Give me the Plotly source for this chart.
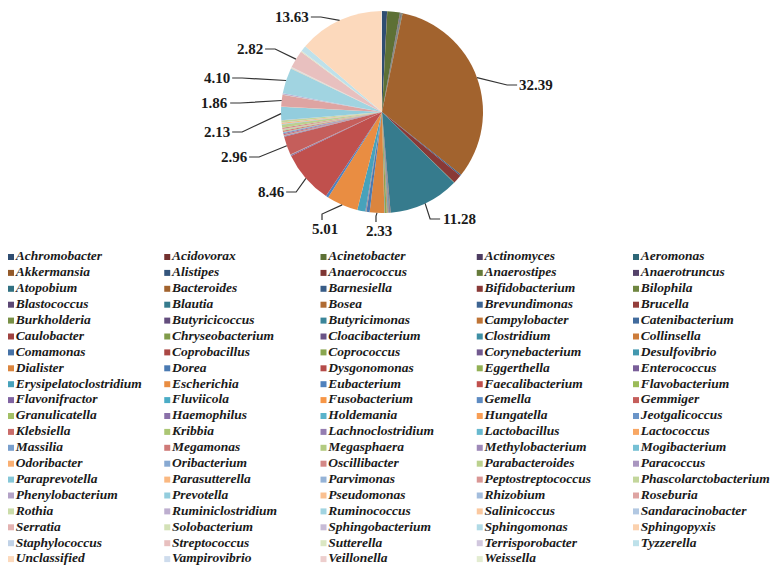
import math
import plotly.graph_objects as go

# genus relative abundance (%), in legend order
GENERA = [
    "Achromobacter", "Acidovorax", "Acinetobacter", "Actinomyces", "Aeromonas",
    "Akkermansia", "Alistipes", "Anaerococcus", "Anaerostipes", "Anaerotruncus",
    "Atopobium", "Bacteroides", "Barnesiella", "Bifidobacterium", "Bilophila",
    "Blastococcus", "Blautia", "Bosea", "Brevundimonas", "Brucella",
    "Burkholderia", "Butyricicoccus", "Butyricimonas", "Campylobacter", "Catenibacterium",
    "Caulobacter", "Chryseobacterium", "Cloacibacterium", "Clostridium", "Collinsella",
    "Comamonas", "Coprobacillus", "Coprococcus", "Corynebacterium", "Desulfovibrio",
    "Dialister", "Dorea", "Dysgonomonas", "Eggerthella", "Enterococcus",
    "Erysipelatoclostridium", "Escherichia", "Eubacterium", "Faecalibacterium", "Flavobacterium",
    "Flavonifractor", "Fluviicola", "Fusobacterium", "Gemella", "Gemmiger",
    "Granulicatella", "Haemophilus", "Holdemania", "Hungatella", "Jeotgalicoccus",
    "Klebsiella", "Kribbia", "Lachnoclostridium", "Lactobacillus", "Lactococcus",
    "Massilia", "Megamonas", "Megasphaera", "Methylobacterium", "Mogibacterium",
    "Odoribacter", "Oribacterium", "Oscillibacter", "Parabacteroides", "Paracoccus",
    "Paraprevotella", "Parasutterella", "Parvimonas", "Peptostreptococcus", "Phascolarctobacterium",
    "Phenylobacterium", "Prevotella", "Pseudomonas", "Rhizobium", "Roseburia",
    "Rothia", "Ruminiclostridium", "Ruminococcus", "Salinicoccus", "Sandaracinobacter",
    "Serratia", "Solobacterium", "Sphingobacterium", "Sphingomonas", "Sphingopyxis",
    "Staphylococcus", "Streptococcus", "Sutterella", "Terrisporobacter", "Tyzzerella",
    "Unclassified", "Vampirovibrio", "Veillonella", "Weissella",
]

ABUNDANCE = [
    0.80, 0.04, 2.00, 0.05, 0.03,
    0.08, 0.10, 0.03, 0.08, 0.03,
    0.03, 32.39, 0.20, 1.40, 0.05,
    0.02, 11.28, 0.02, 0.03, 0.02,
    0.03, 0.10, 0.05, 0.02, 0.05,
    0.02, 0.02, 0.02, 0.10, 0.10,
    0.02, 0.03, 0.30, 0.02, 0.05,
    2.33, 0.50, 0.03, 0.05, 0.10,
    1.30, 5.01, 0.40, 8.46, 0.02,
    0.15, 0.02, 0.05, 0.03, 2.96,
    0.03, 0.10, 0.05, 0.05, 0.02,
    0.15, 0.02, 0.20, 0.10, 0.05,
    0.02, 0.20, 0.10, 0.02, 0.02,
    0.10, 0.02, 0.20, 0.50, 0.02,
    0.10, 0.20, 0.02, 0.02, 0.30,
    0.02, 2.13, 0.05, 0.02, 1.86,
    0.05, 0.20, 4.10, 0.02, 0.02,
    0.03, 0.05, 0.02, 0.05, 0.02,
    0.05, 2.82, 0.15, 0.05, 0.90,
    13.63, 0.02, 0.05, 0.02,
]

LABELLED = ["Bacteroides", "Blautia", "Dialister", "Escherichia", "Faecalibacterium",
            "Gemmiger", "Prevotella", "Roseburia", "Ruminococcus", "Streptococcus",
            "Unclassified"]

# where each value label sits (page pixel centre) and which side its leader leaves from
LABEL_POS = {
    "Bacteroides": (536, 85, "left"),
    "Blautia": (459, 219, "left"),
    "Dialister": (379, 231, "top"),
    "Escherichia": (325, 229, "top"),
    "Faecalibacterium": (271, 192, "right"),
    "Gemmiger": (234, 157, "right"),
    "Prevotella": (217, 132, "right"),
    "Roseburia": (215, 103, "right"),
    "Ruminococcus": (217, 78, "right"),
    "Streptococcus": (250, 49, "right"),
    "Unclassified": (292, 17, "right"),
}

PAGE_W, PAGE_H = 778, 568
OFF = 8  # default body margin of the html page
W, H = PAGE_W - OFF, PAGE_H - OFF
CX, CY, R = 382, 112, 101
SERIF = "Times New Roman, Liberation Serif, serif"


def px_x(px):
    return (px - OFF) / W


def px_y(py):
    return 1 - (py - OFF) / H


# Office-style palette: six accents cycling from dark shades to pale tints
ACCENTS = [(79, 129, 189), (192, 80, 77), (155, 187, 89),
           (128, 100, 162), (75, 172, 198), (247, 150, 70)]


def point_color(i):
    c = i // 6
    b = ACCENTS[i % 6]
    if c <= 7:
        f = 0.6 + 0.4 * c / 7
        rgb = [v * f for v in b]
    else:
        t = 0.72 * (c - 7) / 9
        rgb = [v + (255 - v) * t for v in b]
    return "rgb(%d,%d,%d)" % tuple(int(round(v)) for v in rgb)


colors = [point_color(i) for i in range(len(GENERA))]

fig = go.Figure()

fig.add_trace(go.Pie(
    labels=GENERA,
    values=ABUNDANCE,
    sort=False,
    direction="clockwise",
    rotation=0,
    textinfo="none",
    hoverinfo="label+value",
    marker=dict(colors=colors, line=dict(width=0)),
    showlegend=False,
    domain=dict(x=[px_x(CX - R), px_x(CX + R)], y=[px_y(CY + R), px_y(CY - R)]),
))

# legend grid (5 columns, row-major)
fig.add_trace(go.Scatter(
    x=[i % 5 for i in range(len(GENERA))],
    y=[i // 5 for i in range(len(GENERA))],
    mode="markers+text",
    text=GENERA,
    textposition="middle right",
    marker=dict(symbol="square", size=6, color=colors),
    textfont=dict(family=SERIF, size=13.5, color="#1a1a1a",
                  weight="bold", style="italic"),
    cliponaxis=False,
    hoverinfo="skip",
    showlegend=False,
))

col_w, row_h = 156.25, 15.9
x0, y0 = 11 - OFF, 257 - OFF
fig.update_xaxes(visible=False, range=[-x0 / col_w, (W - x0) / col_w], fixedrange=True)
fig.update_yaxes(visible=False, range=[(H - y0) / row_h, -y0 / row_h], fixedrange=True)

# value labels with leader lines
total = sum(ABUNDANCE)
cum = 0
annotations = []
shapes = []
for name, v in zip(GENERA, ABUNDANCE):
    mid = (cum + v / 2) / total * 2 * math.pi
    cum += v
    if name not in LABELLED:
        continue
    ax_px = CX + R * math.sin(mid)
    ay_px = CY - R * math.cos(mid)
    lx, ly, side = LABEL_POS[name]
    txt = "%.2f" % v
    half = (7.5 * (len(txt) - 1) + 3.75) / 2
    annotations.append(dict(
        x=px_x(lx), y=px_y(ly), xref="paper", yref="paper",
        text="<b>%s</b>" % txt, showarrow=False,
        font=dict(family=SERIF, size=15, color="#1a1a1a"),
        xanchor="center", yanchor="middle",
    ))
    if side == "right":
        p = [(lx + half + 2, ly), (lx + half + 12, ly), (ax_px, ay_px)]
    elif side == "left":
        p = [(lx - half - 2, ly), (lx - half - 12, ly), (ax_px, ay_px)]
    else:
        p = [(lx - 3, ly - 9), (lx - 3, ly - 15), (ax_px, ay_px)]
    path = "M " + " L ".join("%.4f,%.4f" % (px_x(a), px_y(b)) for a, b in p)
    shapes.append(dict(type="path", path=path, xref="paper", yref="paper",
                       line=dict(color="#333333", width=1.2)))

fig.update_layout(
    width=W,
    height=H,
    margin=dict(l=0, r=0, t=0, b=0),
    paper_bgcolor="white",
    plot_bgcolor="white",
    annotations=annotations,
    shapes=shapes,
)

fig.write_html("out.html")
